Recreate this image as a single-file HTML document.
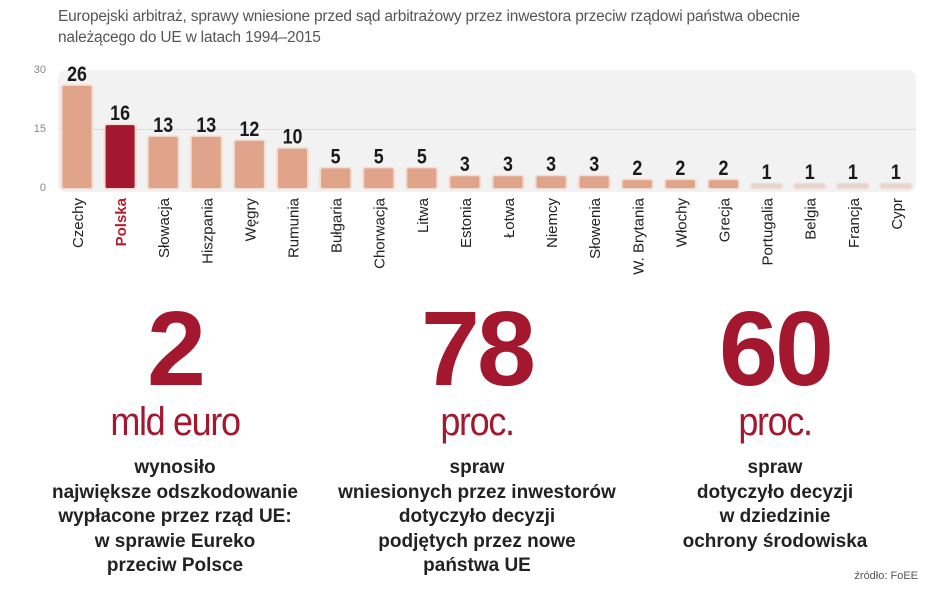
<!DOCTYPE html>
<html><head><meta charset="utf-8"><style>
body{margin:0;width:948px;height:593px;background:#fff;position:relative;overflow:hidden;font-family:"Liberation Sans",sans-serif}
.t{position:absolute;left:58px;top:6px;font-size:15.5px;line-height:21px;color:#555;letter-spacing:-0.2px}
.big{position:absolute;width:320px;text-align:center;color:#a3182f;font-weight:bold;font-size:106px;line-height:1;top:296px;letter-spacing:-3px}
.unit{position:absolute;width:320px;text-align:center;color:#a3182f;font-size:40px;top:400px;letter-spacing:-1.5px;transform:scaleX(0.9)}
.d{position:absolute;width:320px;text-align:center;color:#222;font-weight:bold;font-size:19px;line-height:24.6px;top:456px}
.src{position:absolute;right:30px;top:570px;font-size:11px;color:#555}
</style></head><body>
<div class="t">Europejski arbitraż, sprawy wniesione przed sąd arbitrażowy przez inwestora przeciw rządowi państwa obecnie<br>należącego do UE w latach 1994–2015</div>
<svg width="948" height="300" style="position:absolute;left:0;top:0" font-family="Liberation Sans, sans-serif">
<rect x="58" y="70" width="858" height="122" rx="8" fill="#f2f2f2"/>
<line x1="58" y1="129.5" x2="916" y2="129.5" stroke="#dcdcdc" stroke-width="1"/>
<text x="46" y="73" font-size="11" fill="#888" text-anchor="end">30</text>
<text x="46" y="132" font-size="11" fill="#888" text-anchor="end">15</text>
<text x="46" y="191" font-size="11" fill="#888" text-anchor="end">0</text>
<g id="bars"></g>
</svg>
<script>
var d=[["Czechy",26],["Polska",16],["Słowacja",13],["Hiszpania",13],["Węgry",12],["Rumunia",10],["Bułgaria",5],["Chorwacja",5],["Litwa",5],["Estonia",3],["Łotwa",3],["Niemcy",3],["Słowenia",3],["W. Brytania",2],["Włochy",2],["Grecja",2],["Portugalia",1],["Belgia",1],["Francja",1],["Cypr",1]];
var s="",z=188,k=3.93;
d.forEach(function(e,i){var cx=77+i*43.1,h=Math.max(e[1]*k,3),c=i==1?"#a3182f":(e[1]==1?"#e3d6d0":"#e0a48b"),y=z-h;
s+='<rect x="'+(cx-16.5)+'" y="'+(y-1.5)+'" width="33" height="'+(h+3)+'" rx="3" fill="#f3ddd2"/>';
s+='<rect x="'+(cx-14.5)+'" y="'+y+'" width="29" height="'+h+'" rx="1.5" fill="'+c+'"/>';
s+='<text x="'+cx+'" y="'+(y-5)+'" font-size="21" font-weight="bold" fill="#1a1a1a" text-anchor="middle" transform="translate('+cx+' 0) scale(0.85 1) translate('+(-cx)+' 0)">'+e[1]+'</text>';
s+='<text transform="translate('+(cx+6)+' 198) rotate(-90)" font-size="15" text-anchor="end" fill="'+(i==1?"#b3202f":"#222")+'"'+(i==1?' font-weight="bold"':'')+'>'+e[0]+'</text>';});
document.getElementById("bars").innerHTML=s;
</script>
<div class="big" style="left:15px">2</div>
<div class="unit" style="left:15px">mld euro</div>
<div class="d" style="left:15px">wynosiło<br>największe odszkodowanie<br>wypłacone przez rząd UE:<br>w sprawie Eureko<br>przeciw Polsce</div>
<div class="big" style="left:317px">78</div>
<div class="unit" style="left:317px">proc.</div>
<div class="d" style="left:317px">spraw<br>wniesionych przez inwestorów<br>dotyczyło decyzji<br>podjętych przez nowe<br>państwa UE</div>
<div class="big" style="left:615px">60</div>
<div class="unit" style="left:615px">proc.</div>
<div class="d" style="left:615px">spraw<br>dotyczyło decyzji<br>w dziedzinie<br>ochrony środowiska</div>
<div class="src">źródło: FoEE</div>
</body></html>
